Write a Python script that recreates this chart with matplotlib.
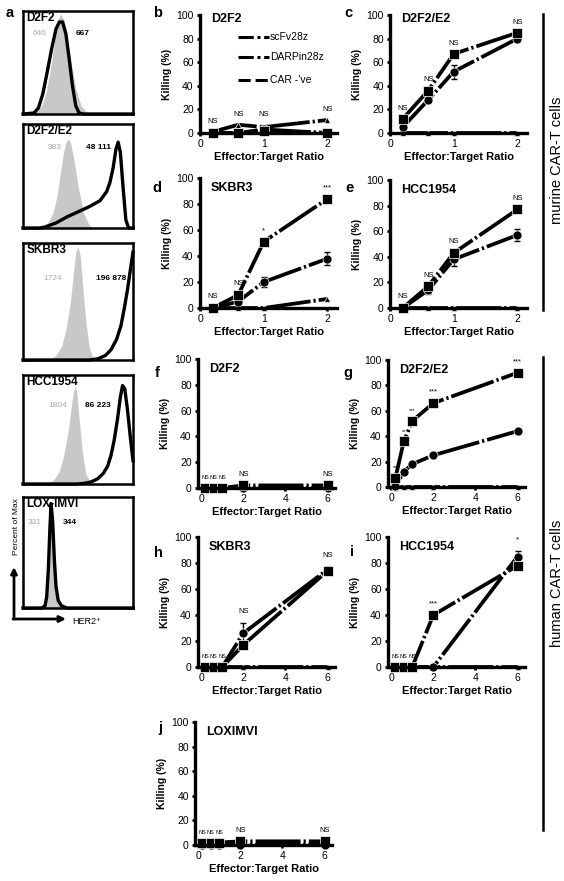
import matplotlib
matplotlib.use('Agg')
import matplotlib.pyplot as plt

W, H = 564, 881
plt.rcParams['font.family'] = ['Liberation Sans', 'DejaVu Sans']

# ---- flow histograms (panel a) ----
hist_names = ['D2F2', 'D2F2/E2', 'SKBR3', 'HCC1954', 'LOX-IMVI']
ctrl_mfi = ['646', '983', '1724', '1804', '331']
car_mfi = ['667', '48 111', '196 878', '86 223', '344']

ctrl_x = [
    [0.07, 0.12, 0.17, 0.21, 0.25, 0.29, 0.32, 0.34, 0.37, 0.40, 0.44, 0.48, 0.53, 0.58, 0.63],
    [0.17, 0.22, 0.27, 0.31, 0.34, 0.37, 0.39, 0.41, 0.43, 0.46, 0.50, 0.55, 0.60, 0.65],
    [0.24, 0.30, 0.35, 0.39, 0.43, 0.46, 0.48, 0.50, 0.52, 0.54, 0.57, 0.60, 0.63, 0.68],
    [0.22, 0.28, 0.33, 0.37, 0.41, 0.44, 0.46, 0.475, 0.49, 0.51, 0.54, 0.57, 0.61, 0.66],
    [0.15, 0.19, 0.21, 0.225, 0.235, 0.245, 0.26, 0.275, 0.29, 0.31, 0.34, 0.38],
]
ctrl_y = [
    [0, 0.02, 0.08, 0.22, 0.45, 0.75, 0.95, 1.0, 0.95, 0.78, 0.5, 0.25, 0.08, 0.02, 0],
    [0, 0.04, 0.14, 0.32, 0.55, 0.76, 0.85, 0.88, 0.85, 0.7, 0.42, 0.15, 0.03, 0],
    [0, 0.04, 0.12, 0.27, 0.5, 0.78, 0.95, 1.0, 0.92, 0.68, 0.35, 0.12, 0.03, 0],
    [0, 0.04, 0.12, 0.27, 0.5, 0.74, 0.88, 0.92, 0.86, 0.62, 0.3, 0.1, 0.02, 0],
    [0, 0.03, 0.12, 0.4, 0.75, 0.97, 0.75, 0.4, 0.18, 0.07, 0.02, 0],
]
car_x = [
    [0.0, 0.1, 0.14, 0.18, 0.22, 0.26, 0.30, 0.33, 0.36, 0.39, 0.42, 0.45, 0.48, 0.51, 0.55, 1.0],
    [0.0, 0.15, 0.2, 0.3, 0.4, 0.5, 0.6, 0.7, 0.76, 0.79, 0.82, 0.845, 0.865, 0.885, 0.91, 0.935, 0.96, 1.0],
    [0.0, 0.6, 0.68, 0.75, 0.8, 0.85, 0.89, 0.92, 0.95, 0.98, 1.0],
    [0.0, 0.48, 0.55, 0.62, 0.68, 0.73, 0.77, 0.8, 0.83, 0.86, 0.885, 0.905, 0.925, 0.95, 0.975, 1.0],
    [0.0, 0.17, 0.2, 0.215, 0.23, 0.245, 0.255, 0.27, 0.285, 0.3, 0.32, 0.35, 0.4, 1.0],
]
car_y = [
    [0, 0.01, 0.06, 0.2, 0.42, 0.65, 0.85, 0.92, 0.92, 0.8, 0.55, 0.28, 0.08, 0.01, 0, 0],
    [0, 0, 0.01, 0.05, 0.11, 0.16, 0.21, 0.27, 0.36, 0.45, 0.6, 0.78, 0.85, 0.75, 0.4, 0.08, 0, 0],
    [0, 0, 0.01, 0.04, 0.09, 0.18, 0.3, 0.45, 0.62, 0.82, 0.95],
    [0, 0, 0.005, 0.02, 0.05, 0.1, 0.17, 0.27, 0.42, 0.62, 0.82, 0.93, 0.9, 0.7, 0.45, 0.22],
    [0, 0, 0.02, 0.1, 0.35, 0.75, 0.97, 0.8, 0.45, 0.2, 0.07, 0.02, 0, 0],
]

# ---- killing assays ----
series_names = ['scFv28z', 'DARPin28z', "CAR -'ve"]
murine_x = [0.2, 0.6, 1, 2]
human_x = [0.2, 0.6, 1, 2, 6]

panel_letters = ['b', 'c', 'd', 'e', 'f', 'g', 'h', 'i', 'j']
panel_titles = ['D2F2', 'D2F2/E2', 'SKBR3', 'HCC1954', 'D2F2', 'D2F2/E2', 'SKBR3', 'HCC1954', 'LOXIMVI']

# circle = scFv28z, square = DARPin28z, triangle = CAR -'ve
circ_vals = [
    [0, 0, 3, 0],
    [5, 28, 52, 80],
    [0, 5, 20, 38],
    [0, 14, 38, 57],
    [0, 0, 0, 0, 0],
    [1, 12, 18, 25, 44],
    [0, 0, 0, 26, 75],
    [0, 0, 0, 0, 85],
    [0, 0, 0, 0, 0],
]
sq_vals = [
    [0, 0, 2, 0],
    [12, 36, 67, 85],
    [0, 10, 51, 84],
    [0, 17, 43, 77],
    [0, 0, 0, 2, 2],
    [7, 36, 52, 66, 90],
    [0, 0, 0, 17, 74],
    [0, 0, 0, 40, 78],
    [2, 2, 2, 3, 3],
]
tri_vals = [
    [1, 7, 5, 11],
    [0, 0, 0, 0],
    [0, 0, 0, 7],
    [0, 0, 0, 0],
    [0, 0, 0, 0, 0],
    [0, 0, 0, 0, 0],
    [0, 0, 0, 0, 0],
    [0, 0, 0, 0, 0],
    [0, 0, 0, 0, 0],
]
circ_err = [
    [0, 2, 4, 0],
    [3, 2, 6, 3],
    [0, 2, 4, 5],
    [0, 3, 5, 5],
    [0, 0, 0, 2, 0],
    [3, 2, 2, 2, 2],
    [0, 0, 0, 8, 2],
    [0, 0, 0, 0, 4],
    [0, 0, 0, 0, 0],
]
sig_notes = [
    ['NS', 'NS', 'NS', 'NS'],
    ['NS', 'NS', 'NS', 'NS'],
    ['NS', 'NS', '*', '***'],
    ['NS', 'NS', 'NS', 'NS'],
    ['NS', 'NS', 'NS', 'NS', 'NS'],
    ['**', '**', '***', '***', '***'],
    ['NS', 'NS', 'NS', 'NS', 'NS'],
    ['NS', 'NS', 'NS', '***', '*'],
    ['NS', 'NS', 'NS', 'NS', 'NS'],
]

fig = plt.figure(figsize=(W / 100, H / 100), dpi=100)


def px_axes(l, t, r, b):
    return fig.add_axes([l / W, 1 - b / H, (r - l) / W, (b - t) / H])


# histogram boxes
hist_rows = [(11, 114), (124, 228), (243, 360), (375, 484), (497, 608)]
num_pos = [(0.155, 0.78, 0.54), (0.29, 0.77, 0.69), (0.27, 0.7, 0.8),
           (0.32, 0.72, 0.68), (0.11, 0.77, 0.43)]
for i, name in enumerate(hist_names):
    t, b = hist_rows[i]
    ax = px_axes(23, t, 133, b)
    ax.fill_between(ctrl_x[i], ctrl_y[i], color='#c8c8c8', lw=0)
    ax.plot(car_x[i], car_y[i], color='k', lw=2.4, solid_joinstyle='round', clip_on=False)
    ax.set_xlim(0, 1)
    ax.set_ylim(0, 1.03)
    ax.set_xticks([])
    ax.set_yticks([])
    for s in ax.spines.values():
        s.set_linewidth(1.8)
    ax.text(0.03, 0.99, name, transform=ax.transAxes, fontsize=8.5, fontweight='bold', va='top')
    gx, ny, bx = num_pos[i]
    ax.text(gx, ny, ctrl_mfi[i], transform=ax.transAxes, fontsize=6, color='#a8a8a8',
            ha='center', va='center')
    ax.text(bx, ny, car_mfi[i], transform=ax.transAxes, fontsize=6, color='k',
            fontweight='bold', ha='center', va='center')

# killing panels: (left, top, right, bottom) in pixels
boxes = [
    (200, 15, 337, 133), (390, 15, 527, 133),
    (200, 178, 337, 308), (390, 180, 527, 308),
    (198, 359, 335, 488), (388, 360, 525, 487),
    (198, 537, 335, 667), (388, 537, 525, 667),
    (195, 722, 332, 845),
]
line_kw = dict(color='k', lw=2.7, mfc='k', mec='white', mew=0.5, clip_on=False,
               dashes=(12, 0.8, 0.6, 0.8))

for k in range(9):
    ax = px_axes(*boxes[k])
    human = k >= 4
    x = human_x if human else murine_x
    ax.errorbar(x, circ_vals[k], yerr=circ_err[k], fmt='none', ecolor='k',
                elinewidth=1, capsize=2, capthick=1, clip_on=False)
    ax.plot(x, tri_vals[k], marker='^', ms=5, **line_kw)
    ax.plot(x, circ_vals[k], marker='o', ms=6.5, **line_kw)
    ax.plot(x, sq_vals[k], marker='s', ms=7.5, **line_kw)

    for j, note in enumerate(sig_notes[k]):
        top = max(sq_vals[k][j], circ_vals[k][j] + circ_err[k][j], tri_vals[k][j])
        fs = 4 if (human and j < 3) else 5.5
        ax.text(x[j], top + 6, note, fontsize=fs, ha='center', va='bottom')

    ax.set_ylim(0, 100)
    ax.set_yticks([0, 20, 40, 60, 80, 100])
    if human:
        ax.set_xlim(-0.15, 6.35)
        ax.set_xticks([0, 2, 4, 6])
    else:
        ax.set_xlim(0, 2.15)
        ax.set_xticks([0, 1, 2])
    for s in ['top', 'right']:
        ax.spines[s].set_visible(False)
    for s in ['left', 'bottom']:
        ax.spines[s].set_linewidth(2.4)
    ax.tick_params(direction='out', length=2.5, width=2, labelsize=7.5, pad=2)
    ax.set_ylabel('Killing (%)', fontsize=7.5, fontweight='bold', labelpad=3)
    ax.set_xlabel('Effector:Target Ratio', fontsize=8, fontweight='bold', labelpad=2)
    ty = 0.97 if k < 2 else 0.92
    ax.text(0.08, ty, panel_titles[k], transform=ax.transAxes, fontsize=9,
            fontweight='bold', va='center')

    if k == 0:
        leg_y = [0.81, 0.64, 0.45]
        leg_dash = [(5, 1.2, 1, 1.2), (5, 1.2, 1, 1.2), (4, 1.6)]
        for n, name in enumerate(series_names):
            ax.plot([0.28, 0.5], [leg_y[n], leg_y[n]], color='k', lw=2.2,
                    dashes=leg_dash[n], transform=ax.transAxes)
            ax.text(0.51, leg_y[n], name, transform=ax.transAxes, fontsize=7.5, va='center')

# overlay for letters, arrows and side labels
ov = fig.add_axes([0, 0, 1, 1])
ov.set_xlim(0, W)
ov.set_ylim(H, 0)
ov.axis('off')

letter_pos = [(10, 13), (158, 13), (348, 13), (157, 188), (349, 188),
              (157, 373), (348, 373), (158, 553), (352, 552), (160, 728)]
for lab, (lx, ly) in zip(['a'] + panel_letters, letter_pos):
    ov.text(lx, ly, lab, fontsize=10.5, fontweight='bold', ha='center', va='center')

arrow_kw = dict(arrowstyle='-|>', lw=2, color='k', mutation_scale=9, shrinkA=0, shrinkB=0)
ov.annotate('', xy=(14, 567), xytext=(14, 619), arrowprops=arrow_kw)
ov.annotate('', xy=(66, 619), xytext=(13, 619), arrowprops=arrow_kw)
ov.text(16, 527, 'Percent of Max', rotation=90, fontsize=6, ha='center', va='center')
ov.text(72, 621, 'HER2⁺', fontsize=6.5, ha='left', va='center')

ov.plot([543, 543], [14, 310], color='k', lw=1.8)
ov.plot([543, 543], [357, 830], color='k', lw=1.8)
ov.text(557, 160, 'murine CAR-T cells', rotation=90, fontsize=10.5, ha='center', va='center')
ov.text(557, 583, 'human CAR-T cells', rotation=90, fontsize=10.5, ha='center', va='center')

fig.savefig('out.png', dpi=100)
